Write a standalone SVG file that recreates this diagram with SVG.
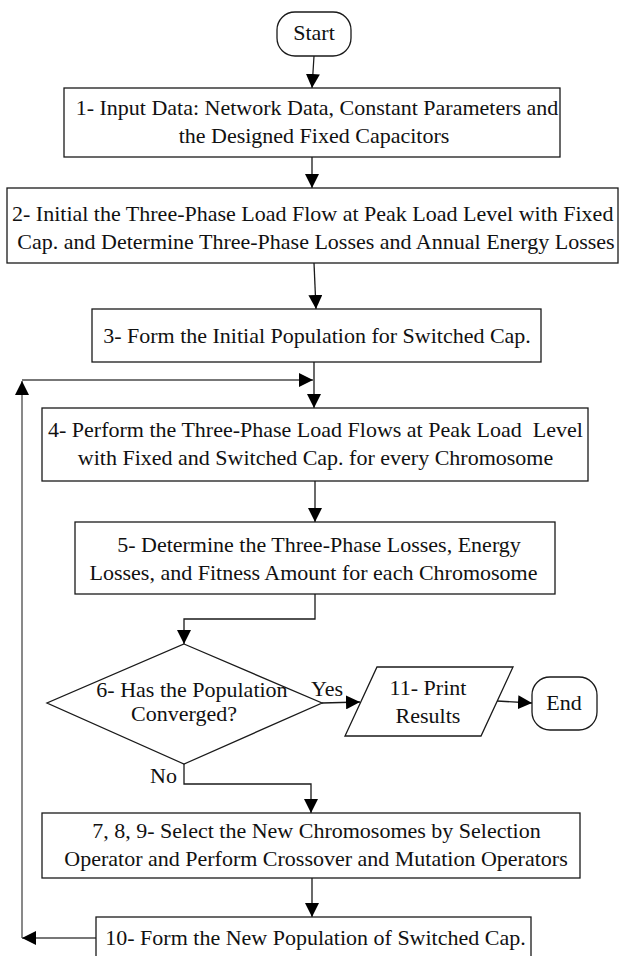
<svg xmlns="http://www.w3.org/2000/svg" width="623" height="956" viewBox="0 0 623 956">
<style>
  .shape { fill: #ffffff; stroke: #1a1a1a; stroke-width: 1.3; }
  .t { font-family: "Liberation Serif", "Times New Roman", serif; font-size: 22px; fill: #111111; text-anchor: middle; }
  .ts { font-family: "Liberation Serif", "Times New Roman", serif; font-size: 22px; fill: #111111; text-anchor: start; }
  .conn { fill: none; stroke: #1a1a1a; stroke-width: 1.3; marker-end: url(#arrow); }
  .loop { fill: none; stroke: #4a4a4a; stroke-width: 1.3; marker-end: url(#arrow); }
  .plain { fill: none; stroke: #1a1a1a; stroke-width: 1.3; }
</style>
<defs>
  <marker id="arrow" markerUnits="userSpaceOnUse" markerWidth="14" markerHeight="14" refX="14" refY="7" orient="auto">
    <path d="M0,0 L14,7 L0,14 z" fill="#000000"/>
  </marker>
</defs>
<rect x="0" y="0" width="623" height="956" fill="#ffffff"/>

<g id="connectors">
  <path class="conn" d="M314,56 L312,88"/>
  <path class="conn" d="M312,157 L312,188"/>
  <path class="conn" d="M314,263 L316,309"/>
  <path class="conn" d="M314,362 L314,408"/>
  <path class="conn" d="M315,481 L315,522"/>
  <path class="conn" d="M315,594 L315,619 L184,619 L184,644"/>
  <path class="conn" d="M322,703 L360,702"/>
  <path class="conn" d="M497,701 L532,703"/>
  <path class="conn" d="M184,764 L184,784 L311,784 L311,813"/>
  <path class="conn" d="M312,878 L312,917"/>
  <path class="loop" d="M96,938 L22,938"/>
  <path class="loop" d="M22,938 L22,381"/>
  <path class="loop" d="M22,380 L313,380"/>
</g>

<g id="start">
  <rect class="shape" x="277" y="12" width="74" height="44" rx="18" ry="18"/>
  <text class="t" x="314" y="40">Start</text>
</g>

<g id="step1">
  <rect class="shape" x="64" y="88" width="496" height="69"/>
  <text class="t" x="317" y="115">1- Input Data: Network Data, Constant Parameters and</text>
  <text class="t" x="314" y="143">the Designed Fixed Capacitors</text>
</g>

<g id="step2">
  <rect class="shape" x="7" y="188" width="611" height="75"/>
  <text class="ts" x="12" y="221">2- Initial the Three-Phase Load Flow at Peak Load Level with Fixed</text>
  <text class="t" x="316" y="249">Cap. and Determine Three-Phase Losses and Annual Energy Losses</text>
</g>

<g id="step3">
  <rect class="shape" x="92" y="309" width="449" height="53"/>
  <text class="t" x="317" y="343">3- Form the Initial Population for Switched Cap.</text>
</g>

<g id="step4">
  <rect class="shape" x="42" y="408" width="546" height="73"/>
  <text class="ts" x="48" y="437" xml:space="preserve">4- Perform the Three-Phase Load Flows at Peak Load  Level</text>
  <text class="t" x="315.5" y="465">with Fixed and Switched Cap. for every Chromosome</text>
</g>

<g id="step5">
  <rect class="shape" x="75" y="522" width="480" height="72"/>
  <text class="t" x="319" y="552">5- Determine the Three-Phase Losses, Energy</text>
  <text class="t" x="313.5" y="580">Losses, and Fitness Amount for each Chromosome</text>
</g>

<g id="step6">
  <polygon class="shape" points="184,644 322,703 184,764 47,703"/>
  <text class="t" x="192" y="697">6- Has the Population</text>
  <text class="t" x="184" y="721">Converged?</text>
</g>

<g id="labels">
  <text class="ts" x="311" y="696">Yes</text>
  <text class="ts" x="150" y="783">No</text>
</g>

<g id="step11">
  <polygon class="shape" points="377,667 513,667 481,736 345,736"/>
  <text class="t" x="428" y="695">11- Print</text>
  <text class="t" x="428" y="723">Results</text>
</g>

<g id="end">
  <rect class="shape" x="532" y="677" width="65" height="53" rx="18" ry="18"/>
  <text class="t" x="564" y="710">End</text>
</g>

<g id="step789">
  <rect class="shape" x="42" y="813" width="538" height="65"/>
  <text class="t" x="316.5" y="838">7, 8, 9- Select the New Chromosomes by Selection</text>
  <text class="t" x="316" y="866">Operator and Perform Crossover and Mutation Operators</text>
</g>

<g id="step10">
  <rect class="shape" x="96" y="917" width="435" height="42"/>
  <text class="t" x="315.5" y="945">10- Form the New Population of Switched Cap.</text>
</g>
</svg>
